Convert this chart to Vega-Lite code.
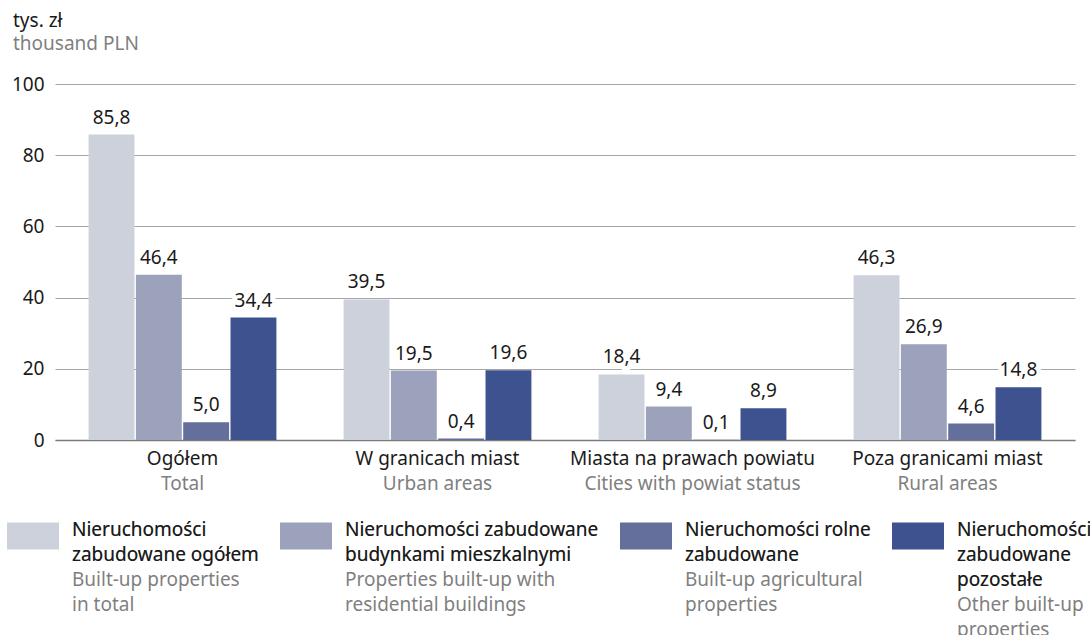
{
  "$schema": "https://vega.github.io/schema/vega-lite/v6.json",
  "width": 1020,
  "height": 356,
  "autosize": {"type": "none"},
  "padding": {"left": 55, "top": 84, "right": 15, "bottom": 195},
  "config": {
    "font": "Noto Sans",
    "view": {"stroke": null},
    "locale": {"number": {"decimal": ",", "thousands": " ", "grouping": [3], "currency": ["", " zł"]}},
    "axis": {"labelFont": "Noto Sans", "labelFontSize": 19, "labelColor": "#1a1a1a", "labelLimit": 400},
    "legend": {"labelFont": "Noto Sans", "labelFontSize": 19},
    "style": {"guide-label": {"lineHeight": 25}}
  },
  "title": {
    "text": "tys. zł",
    "subtitle": "thousand PLN",
    "anchor": "start",
    "frame": "group",
    "dx": -42,
    "offset": 21,
    "font": "Noto Sans",
    "fontSize": 19,
    "fontWeight": "normal",
    "color": "#1a1a1a",
    "subtitleFont": "Noto Sans",
    "subtitleFontSize": 19,
    "subtitleColor": "#7f7f7f",
    "subtitlePadding": 4
  },
  "data": {
    "values": [
      {"group": "Ogółem", "series": "Nieruchomości zabudowane ogółem", "value": 85.8},
      {"group": "Ogółem", "series": "Nieruchomości zabudowane budynkami mieszkalnymi", "value": 46.4},
      {"group": "Ogółem", "series": "Nieruchomości rolne zabudowane", "value": 5.0},
      {"group": "Ogółem", "series": "Nieruchomości zabudowane pozostałe", "value": 34.4},
      {"group": "W granicach miast", "series": "Nieruchomości zabudowane ogółem", "value": 39.5},
      {"group": "W granicach miast", "series": "Nieruchomości zabudowane budynkami mieszkalnymi", "value": 19.5},
      {"group": "W granicach miast", "series": "Nieruchomości rolne zabudowane", "value": 0.4},
      {"group": "W granicach miast", "series": "Nieruchomości zabudowane pozostałe", "value": 19.6},
      {"group": "Miasta na prawach powiatu", "series": "Nieruchomości zabudowane ogółem", "value": 18.4},
      {"group": "Miasta na prawach powiatu", "series": "Nieruchomości zabudowane budynkami mieszkalnymi", "value": 9.4},
      {"group": "Miasta na prawach powiatu", "series": "Nieruchomości rolne zabudowane", "value": 0.1},
      {"group": "Miasta na prawach powiatu", "series": "Nieruchomości zabudowane pozostałe", "value": 8.9},
      {"group": "Poza granicami miast", "series": "Nieruchomości zabudowane ogółem", "value": 46.3},
      {"group": "Poza granicami miast", "series": "Nieruchomości zabudowane budynkami mieszkalnymi", "value": 26.9},
      {"group": "Poza granicami miast", "series": "Nieruchomości rolne zabudowane", "value": 4.6},
      {"group": "Poza granicami miast", "series": "Nieruchomości zabudowane pozostałe", "value": 14.8}
    ]
  },
  "layer": [
    {
      "mark": {"type": "bar"},
      "encoding": {
        "x": {
          "field": "group", "type": "nominal", "sort": null, "title": null,
          "scale": {"paddingInner": 0, "paddingOuter": 0},
          "axis": {"orient": "bottom", "labelAngle": 0, "ticks": false, "labelPadding": 9, "domainColor": "#7a7a7a", "domainWidth": 1.5, "grid": false, "labelBaseline": "top"}
        },
        "xOffset": {"field": "series", "type": "nominal", "sort": null, "scale": {"paddingInner": 0.03, "paddingOuter": 0.71}},
        "y": {
          "field": "value", "type": "quantitative", "title": null,
          "scale": {"domain": [0, 100], "nice": false},
          "axis": {"values": [0, 20, 40, 60, 80, 100], "domain": false, "ticks": false, "labelPadding": 11, "gridColor": "#a6a6a6", "gridWidth": 1}
        },
        "color": {
          "field": "series", "type": "nominal", "sort": null,
          "scale": {
            "domain": ["Nieruchomości zabudowane ogółem", "Nieruchomości zabudowane budynkami mieszkalnymi", "Nieruchomości rolne zabudowane", "Nieruchomości zabudowane pozostałe"],
            "range": ["#ccd1dc", "#9ca1bc", "#646f9b", "#3d528e"]
          },
          "legend": {
            "orient": "none", "legendX": -48, "legendY": 426, "direction": "horizontal",
            "title": null, "padding": 0, "columnPadding": 21,
            "symbolType": "M-1,-0.52H1V0.52H-1Z", "symbolSize": 2704, "symbolStrokeWidth": 0, "symbolOpacity": 1,
            "labelOffset": 13, "labelLimit": 500, "labelBaseline": "alphabetic", "labelColor": "#7f7f7f", "labelFontSize": 19,
            "labelExpr": "datum.value == 'Nieruchomości zabudowane ogółem' ? ['Nieruchomości', 'zabudowane ogółem', 'Built-up properties', 'in total', ''] : datum.value == 'Nieruchomości zabudowane budynkami mieszkalnymi' ? ['Nieruchomości zabudowane', 'budynkami mieszkalnymi', 'Properties built-up with', 'residential buildings', ''] : datum.value == 'Nieruchomości rolne zabudowane' ? ['Nieruchomości rolne', 'zabudowane', 'Built-up agricultural', 'properties', ''] : ['Nieruchomości', 'zabudowane', 'pozostałe', 'Other built-up', 'properties']"
          }
        }
      }
    },
    {
      "mark": {"type": "text", "baseline": "alphabetic", "dy": -11, "fontSize": 19, "stroke": "white", "strokeWidth": 10, "strokeJoin": "round", "fill": "white"},
      "encoding": {
        "x": {"field": "group", "type": "nominal", "sort": null, "axis": null},
        "xOffset": {"field": "series", "type": "nominal", "sort": null},
        "y": {"field": "value", "type": "quantitative", "title": null},
        "text": {"field": "value", "type": "quantitative", "format": ".1f"}
      }
    },
    {
      "mark": {"type": "text", "baseline": "alphabetic", "dy": -11, "fontSize": 19, "fill": "#1a1a1a"},
      "encoding": {
        "x": {
          "field": "group", "type": "nominal", "sort": null, "title": null,
          "axis": {
            "orient": "bottom", "labelAngle": 0, "ticks": false, "domain": false, "grid": false, "labelPadding": 34, "labelBaseline": "top",
            "labelColor": "#7f7f7f",
            "labelExpr": "datum.value == 'Ogółem' ? 'Total' : datum.value == 'W granicach miast' ? 'Urban areas' : datum.value == 'Miasta na prawach powiatu' ? 'Cities with powiat status' : 'Rural areas'"
          }
        },
        "xOffset": {"field": "series", "type": "nominal", "sort": null},
        "y": {"field": "value", "type": "quantitative", "title": null},
        "text": {"field": "value", "type": "quantitative", "format": ".1f"}
      }
    },
    {
      "mark": {"type": "point", "opacity": 0},
      "encoding": {
        "x": {"field": "group", "type": "nominal", "sort": null, "axis": null},
        "xOffset": {"field": "series", "type": "nominal", "sort": null},
        "y": {"field": "value", "type": "quantitative", "title": null},
        "shape": {
          "field": "series", "type": "nominal", "sort": null,
          "legend": {
            "orient": "none", "legendX": -48, "legendY": 426, "direction": "horizontal",
            "title": null, "padding": 0, "columnPadding": 21,
            "symbolType": "M-1,-0.52H1V0.52H-1Z", "symbolSize": 2704, "symbolStrokeWidth": 0, "symbolOpacity": 0,
            "labelOffset": 13, "labelLimit": 500, "labelBaseline": "alphabetic", "labelColor": "#1a1a1a", "labelFontSize": 19,
            "labelExpr": "datum.value == 'Nieruchomości zabudowane ogółem' ? ['Nieruchomości', 'zabudowane ogółem', '', '', ''] : datum.value == 'Nieruchomości zabudowane budynkami mieszkalnymi' ? ['Nieruchomości zabudowane', 'budynkami mieszkalnymi', '', '', ''] : datum.value == 'Nieruchomości rolne zabudowane' ? ['Nieruchomości rolne', 'zabudowane', '', '', ''] : ['Nieruchomości', 'zabudowane', 'pozostałe', '', '']"
          }
        }
      }
    }
  ],
  "resolve": {"axis": {"x": "independent"}}
}
